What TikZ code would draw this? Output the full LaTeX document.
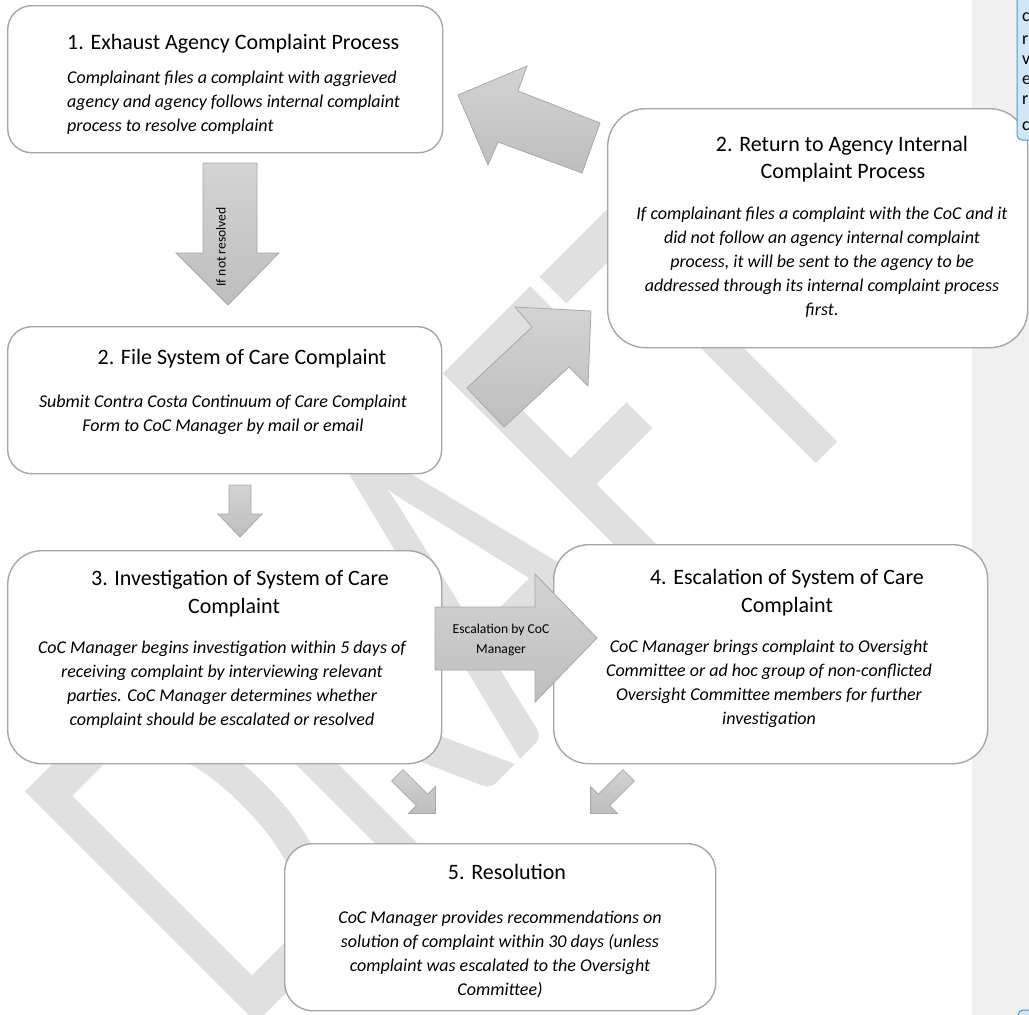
\documentclass[tikz,border=0pt]{standalone}
\usepackage{fontspec}
\setmainfont{Carlito}
\definecolor{boxline}{HTML}{A6A6A6}
\definecolor{arrtop}{HTML}{D3D3D3}
\definecolor{arrbot}{HTML}{BEBEBE}
\definecolor{arrline}{HTML}{A8A8A8}
\definecolor{wmark}{HTML}{E0E0E0}
\definecolor{marginc}{HTML}{F0F0F0}
\definecolor{cmtfill}{HTML}{D2E6FA}
\definecolor{cmtline}{HTML}{4A9AE0}
\begin{document}
\begin{tikzpicture}[x=1pt,y=-1pt,
  procbox/.style={draw=boxline, line width=1.4pt, fill=white, anchor=north west, inner sep=0},
  blockarrow/.style={draw=arrline, line width=0.8pt, top color=arrtop, bottom color=arrbot},
  ttl/.style={font=\fontsize{22}{26}\selectfont, inner sep=0, anchor=base},
  bdy/.style={font=\fontsize{18}{24}\selectfont\itshape, inner sep=0, anchor=base},
  lbl/.style={font=\fontsize{13.6}{16}\selectfont, inner sep=0, anchor=base},
  cmtxt/.style={font=\fontsize{18}{20}\selectfont, inner sep=0, anchor=base west},
  cmt/.style={draw=cmtline, fill=cmtfill, line width=1pt, rounded corners=5pt}]
\useasboundingbox (0,0) rectangle (1029,1015);
\clip (0,0) rectangle (1029,1015);
\fill[white] (0,0) rectangle (1029,1015);
\fill[marginc] (972,0) rectangle (1029,1015);
% watermark
\node[text=wmark, font=\fontsize{340}{340}\selectfont, inner sep=0, anchor=base west, rotate=45, yscale=1.5] (wm) at (240.5,1039.5) {DRAFT};
% boxes
\node[procbox, minimum width=435pt, minimum height=147pt, rounded corners=24pt] (box1) at (7,5) {};
\node[procbox, minimum width=420pt, minimum height=239pt, rounded corners=38pt] (box2r) at (607,108) {};
\node[procbox, minimum width=434pt, minimum height=147pt, rounded corners=24pt] (box2) at (7,326) {};
\node[procbox, minimum width=434pt, minimum height=213pt, rounded corners=34pt] (box3) at (7,550) {};
\node[procbox, minimum width=434pt, minimum height=219pt, rounded corners=35pt] (box4) at (553,544) {};
\node[procbox, minimum width=431pt, minimum height=167pt, rounded corners=28pt] (box5) at (284,843) {};
% comment boxes (on top)
\draw[cmt] (1017,-10) rectangle (1045,140);
\node[cmtxt] (c1) at (1022,21) {c};
\node[cmtxt] (c2) at (1022,44) {r};
\node[cmtxt] (c3) at (1022,64) {v};
\node[cmtxt] (c4) at (1022,84) {e};
\node[cmtxt] (c5) at (1022,104) {r};
\node[cmtxt] (c6) at (1022,130) {c};
\draw[cmt] (1018,1010) rectangle (1045,1040);
% arrows
\draw[blockarrow] (203,163) -- (257,163) -- (257,253) -- (279,253) -- (228,305) -- (176,253) -- (203,253) -- cycle;
\draw[blockarrow] (458,95) -- (527,66) -- (518,91) -- (600,123) -- (582,173) -- (498,142) -- (488,165) -- cycle;
\draw[blockarrow] (515,307) -- (591,311) -- (588,386) -- (569,367) -- (504,427) -- (467,388) -- (532,327) -- cycle;
\draw[blockarrow] (229,485) -- (251,485) -- (251,514) -- (262,514) -- (240,537) -- (218,514) -- (229,514) -- cycle;
\draw[blockarrow] (435,607) -- (535,607) -- (535,574) -- (597,638) -- (535,702) -- (535,670) -- (435,670) -- cycle;
\draw[blockarrow] (403,769.6) -- (427.7,794.3) -- (435.4,786.6) -- (435.4,813.4) -- (408.6,813.4) -- (416.3,805.7) -- (391.6,781) -- cycle;
\draw[blockarrow] (623,769.6) -- (598.3,794.3) -- (590.6,786.6) -- (590.6,813.4) -- (617.4,813.4) -- (609.7,805.7) -- (634.4,781) -- cycle;
% arrow labels
\node[lbl, anchor=center, rotate=90] (lnr) at (221,247) {If not resolved};
\node[lbl] (le1) at (501,633) {Escalation by CoC};
\node[lbl] (le2) at (501,653) {Manager};
% box 1
\node[ttl, anchor=base west] (t1) at (67,49) {1. Exhaust Agency Complaint Process};
\node[bdy, anchor=base west] (b1a) at (67,83) {Complainant files a complaint with aggrieved};
\node[bdy, anchor=base west] (b1b) at (67,107) {agency and agency follows internal complaint};
\node[bdy, anchor=base west] (b1c) at (67,131) {process to resolve complaint};
% box 2r
\node[ttl] (t2ra) at (842,151) {2. Return to Agency Internal};
\node[ttl] (t2rb) at (843,178) {Complaint Process};
\node[bdy] (b2ra) at (822,219) {If complainant files a complaint with the CoC and it};
\node[bdy] (b2rb) at (822,243) {did not follow an agency internal complaint};
\node[bdy] (b2rc) at (822,267) {process, it will be sent to the agency to be};
\node[bdy] (b2rd) at (822,291) {addressed through its internal complaint process};
\node[bdy] (b2re) at (822,315) {first.};
% box 2
\node[ttl] (t2) at (242,364) {2. File System of Care Complaint};
\node[bdy] (b2a) at (223,407) {Submit Contra Costa Continuum of Care Complaint};
\node[bdy] (b2b) at (223,431) {Form to CoC Manager by mail or email};
% box 3
\node[ttl] (t3a) at (240,585) {3. Investigation of System of Care};
\node[ttl] (t3b) at (234,613) {Complaint};
\node[bdy] (b3a) at (222,653) {CoC Manager begins investigation within 5 days of};
\node[bdy] (b3b) at (222,677) {receiving complaint by interviewing relevant};
\node[bdy] (b3c) at (222,701) {parties. CoC Manager determines whether};
\node[bdy] (b3d) at (222,725) {complaint should be escalated or resolved};
% box 4
\node[ttl] (t4a) at (787,584) {4. Escalation of System of Care};
\node[ttl] (t4b) at (787,612) {Complaint};
\node[bdy] (b4a) at (769,652) {CoC Manager brings complaint to Oversight};
\node[bdy] (b4b) at (769,676) {Committee or ad hoc group of non-conflicted};
\node[bdy] (b4c) at (769,700) {Oversight Committee members for further};
\node[bdy] (b4d) at (769,724) {investigation};
% box 5
\node[ttl] (t5) at (507,879) {5. Resolution};
\node[bdy] (b5a) at (500,923) {CoC Manager provides recommendations on};
\node[bdy] (b5b) at (500,947) {solution of complaint within 30 days (unless};
\node[bdy] (b5c) at (500,971) {complaint was escalated to the Oversight};
\node[bdy] (b5d) at (500,995) {Committee)};
\end{tikzpicture}
\end{document}
